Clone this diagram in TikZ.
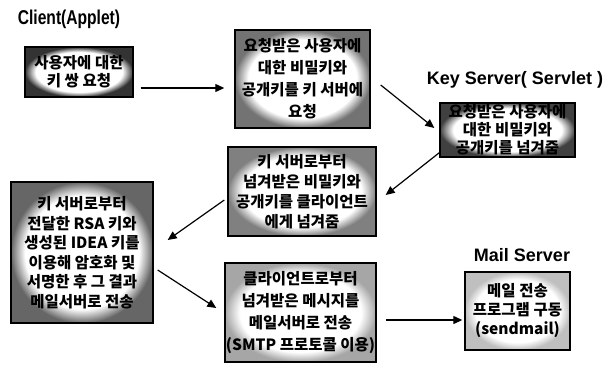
\documentclass[tikz,border=0pt]{standalone}
\usepackage{fontspec}
\setmainfont{Liberation Sans}
\newfontfamily\kr{Noto Sans CJK KR}
\usetikzlibrary{arrows.meta,calc,fadings}
\tikzset{
  box/.style={draw=black, line width=1.4pt, inner sep=0pt, align=center,
    font=\kr\bfseries\fontsize{15.5}{#1}\selectfont},
  box/.default=22,
  scan/.style={preaction={fill=black!#1},
    preaction={fill=white, path fading=circle with fuzzy edge 20 percent}},
  ttl/.style={inner sep=0pt, font=\bfseries\fontsize{18}{20}\selectfont},
  arr/.style={line width=1.2pt, -{Triangle[length=9pt,width=8pt]}}
}
\begin{document}
\begin{tikzpicture}[x=1pt,y=-1pt]
\useasboundingbox (0,0) rectangle (616,365);
\node[ttl] (t1) at (69,19) {\scalebox{0.78}[1]{\fontsize{20}{22}\selectfont Client(Applet)}};
\node[ttl] (t2) at (515,80) {Key Server( Servlet )};
\node[ttl] (t3) at (522,255) {Mail Server};

\node[box=18, scan=80, minimum width=108pt, minimum height=50pt] (b1) at (79,72)
  {사용자에 대한\\키 쌍 요청};
\node[box=22, scan=55, minimum width=135pt, minimum height=98pt] (b2) at (302.5,79)
  {요청받은 사용자에\\대한 비밀키와\\공개키를 키 서버에\\요청};
\node[box=18, scan=75, minimum width=135pt, minimum height=54pt] (b3) at (507.5,130)
  {요청받은 사용자에\\대한 비밀키와\\공개키를 넘겨줌};
\node[box=20, scan=50, minimum width=148pt, minimum height=89pt] (b4) at (302,191.5)
  {키 서버로부터\\넘겨받은 비밀키와\\공개키를 클라이언트\\에게 넘겨줌};
\node[box=19.5, scan=60, minimum width=142pt, minimum height=141pt] (b5) at (82,252.5)
  {키 서버로부터\\전달한 RSA 키와\\생성된 IDEA 키를\\이용해 암호화 및\\서명한 후 그 결과\\메일서버로 전송};
\node[box=22, scan=35, minimum width=151pt, minimum height=99pt] (b6) at (300.5,312.5)
  {클라이언트로부터\\넘겨받은 메시지를\\메일서버로 전송\\(SMTP 프로토콜 이용)};
\node[box=19, scan=25, minimum width=105pt, minimum height=78pt] (b7) at (517.5,311)
  {메일 전송\\프로그램 구동\\(sendmail)};

\draw[arr] ($(b1.east)+(7,16)$) -- ($(b2.west)+(-10,9)$);
\draw[arr] ($(b2.east)+(10,6)$) -- ($(b3.west)+(-5,-2)$);
\draw[arr] ($(b3.south west)+(0,-5)$) -- ($(b4.east)+(9,3.5)$);
\draw[arr] ($(b4.west)+(-3,8.5)$) -- ($(b5.east)+(14,-12.5)$);
\draw[arr] ($(b5.east)+(4,17.5)$) -- ($(b6.west)+(-8,-4.5)$);
\draw[arr] ($(b6.east)+(9,7.5)$) -- ($(b7.west)+(-2,9)$);
\end{tikzpicture}
\end{document}
